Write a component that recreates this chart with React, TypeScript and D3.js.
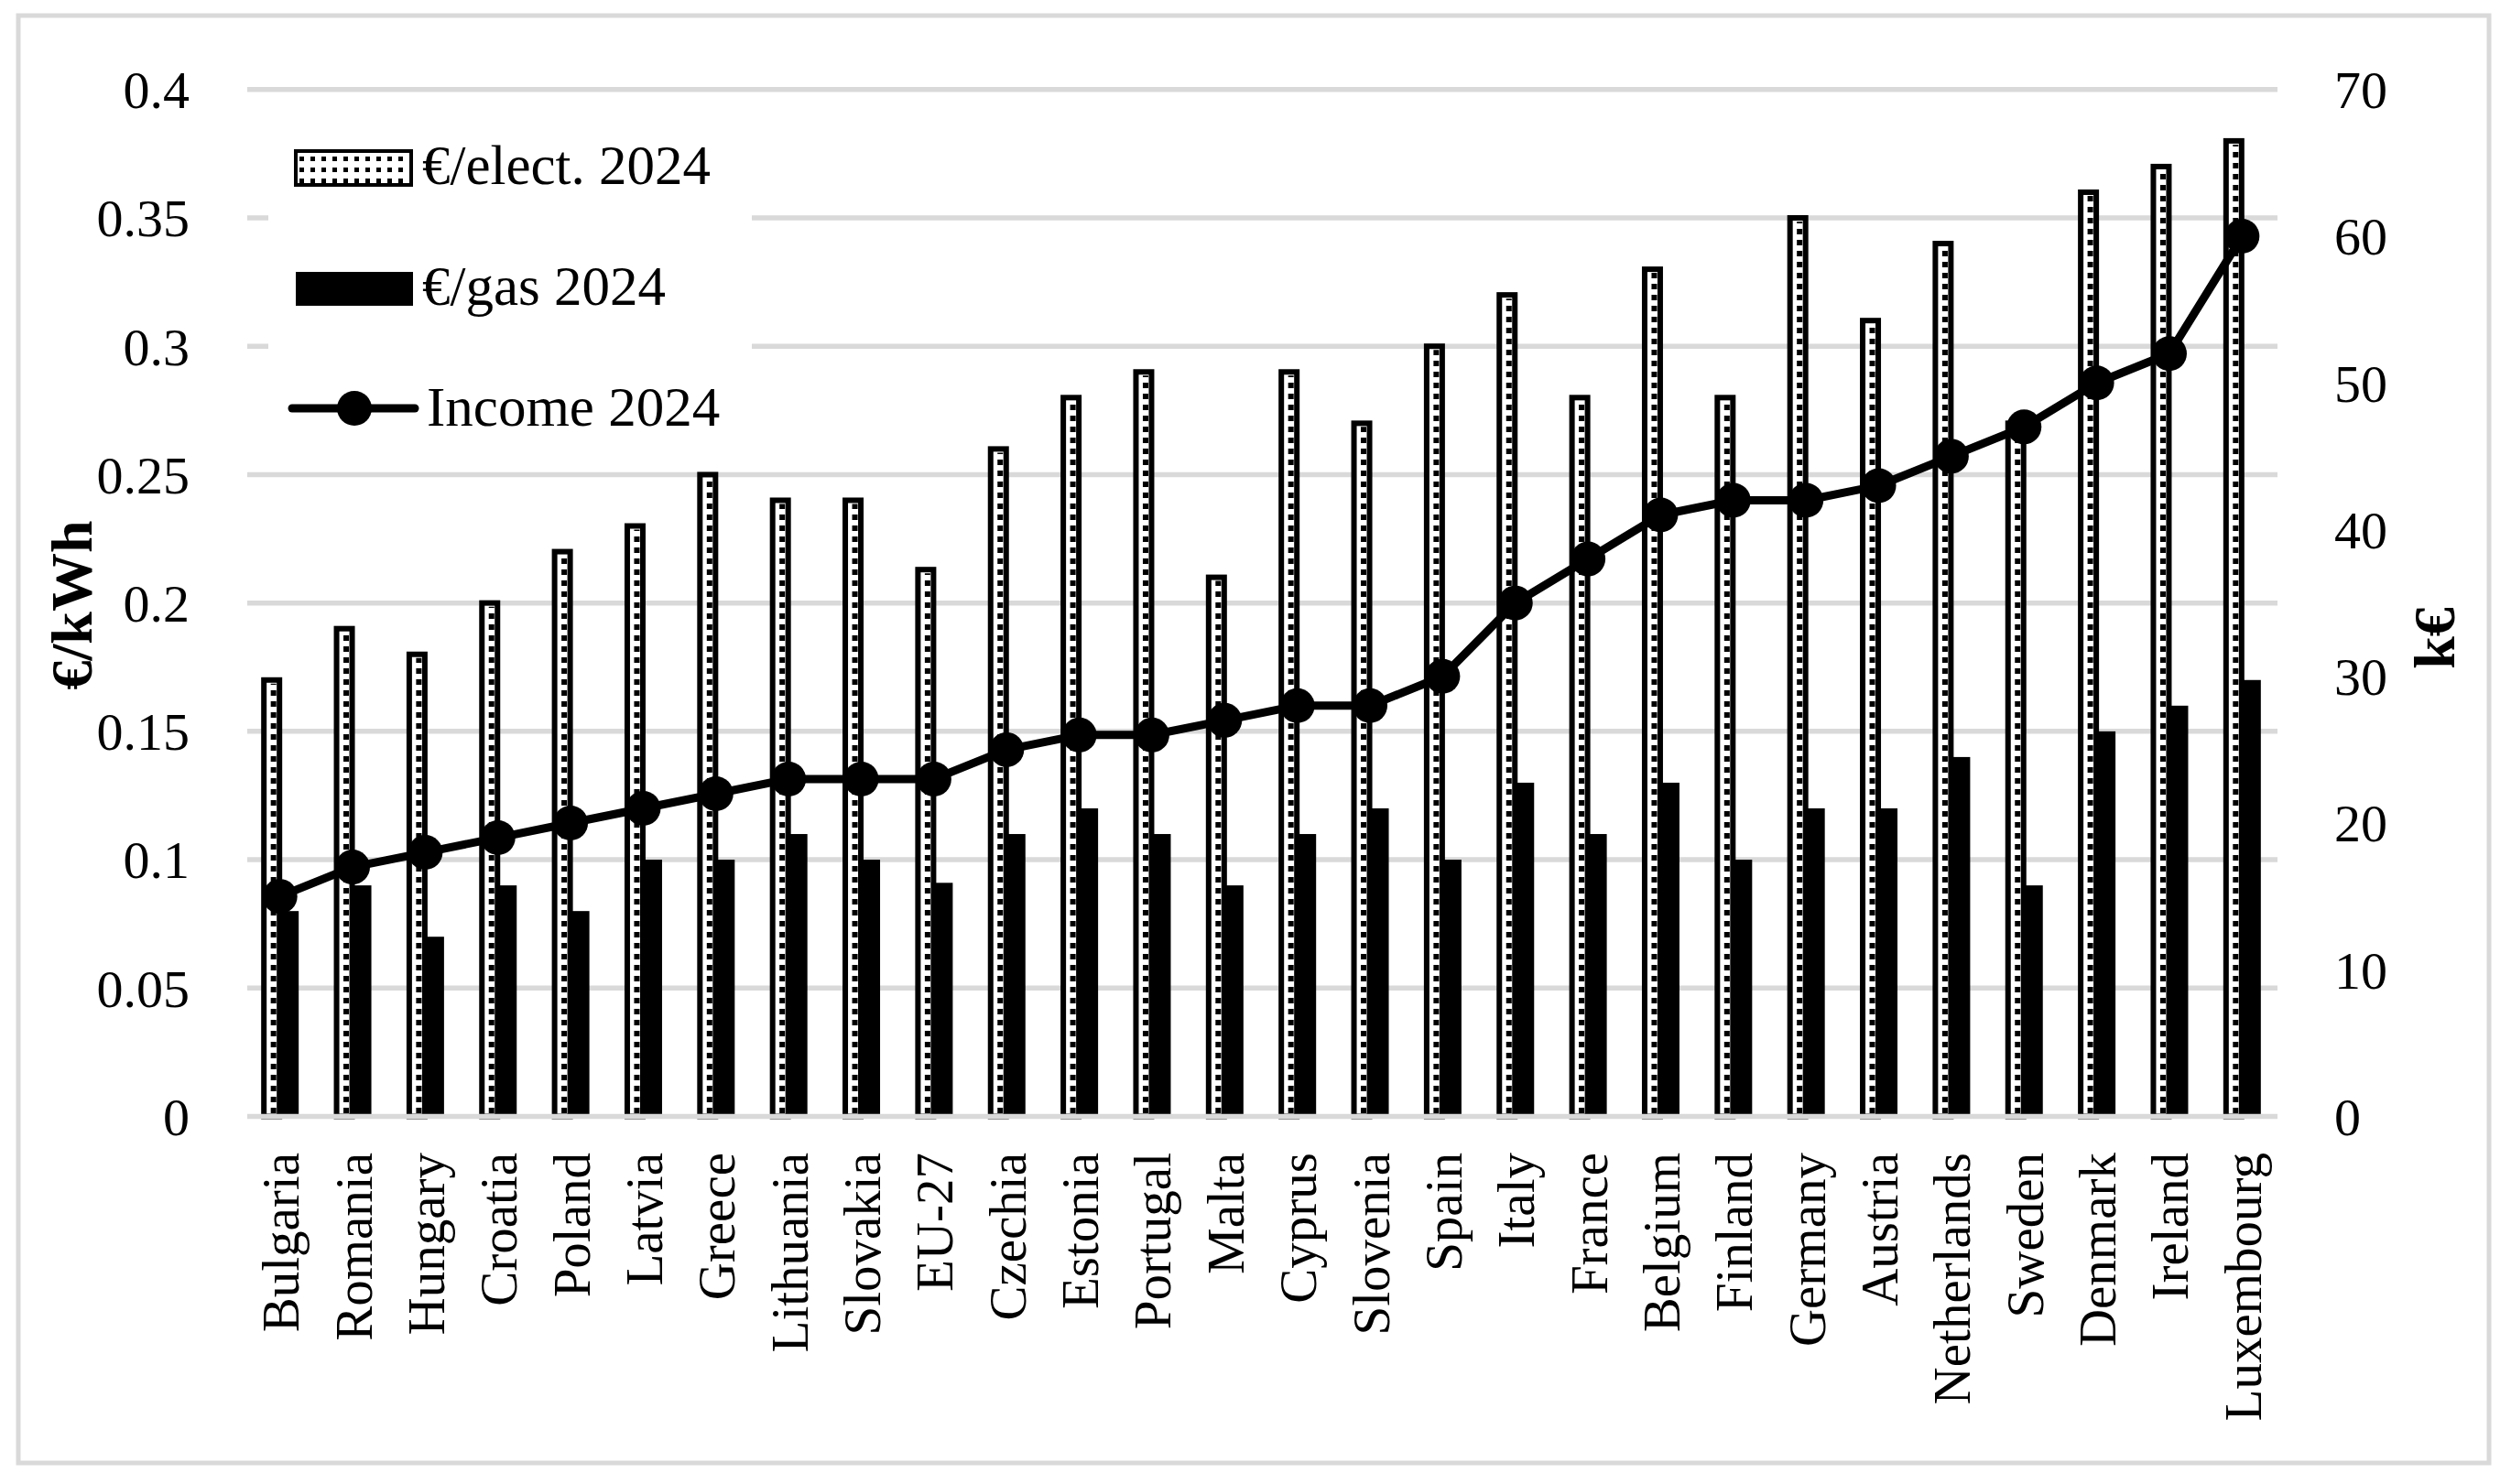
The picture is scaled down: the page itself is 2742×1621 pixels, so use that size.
import * as React from "react";
import * as d3 from "d3";

const countries = [
  "Bulgaria", "Romania", "Hungary", "Croatia", "Poland", "Latvia", "Greece",
  "Lithuania", "Slovakia", "EU-27", "Czechia", "Estonia", "Portugal", "Malta",
  "Cyprus", "Slovenia", "Spain", "Italy", "France", "Belgium", "Finland",
  "Germany", "Austria", "Netherlands", "Sweden", "Denmark", "Ireland", "Luxembourg",
];
const elect2024 = [
  0.17, 0.19, 0.18, 0.2, 0.22, 0.23, 0.25, 0.24, 0.24, 0.213, 0.26, 0.28, 0.29, 0.21,
  0.29, 0.27, 0.3, 0.32, 0.28, 0.33, 0.28, 0.35, 0.31, 0.34, 0.27, 0.36, 0.37, 0.38,
];
const gas2024 = [
  0.08, 0.09, 0.07, 0.09, 0.08, 0.1, 0.1, 0.11, 0.1, 0.091, 0.11, 0.12, 0.11, 0.09,
  0.11, 0.12, 0.1, 0.13, 0.11, 0.13, 0.1, 0.12, 0.12, 0.14, 0.09, 0.15, 0.16, 0.17,
];
const income2024 = [
  15, 17, 18, 19, 20, 21, 22, 23, 23, 23, 25, 26, 26, 27,
  28, 28, 30, 35, 38, 41, 42, 42, 43, 45, 47, 50, 52, 60,
];
const leftTicks = [0, 0.05, 0.1, 0.15, 0.2, 0.25, 0.3, 0.35, 0.4];
const rightTicks = [0, 10, 20, 30, 40, 50, 60, 70];

const W = 2742;
const H = 1621;
const FONT = "'Liberation Serif', 'Times New Roman', serif";
const GRID = "#d9d9d9";

const App = () => {
  const x = d3.scaleBand().domain(countries).range([266, 2488]);
  const y = d3.scaleLinear().domain([0, 0.4]).range([1219.5, 97.8]);
  const yR = d3.scaleLinear().domain([0, 70]).range([1219.5, 97.8]);
  const cx = (c: string) => (x(c) as number) + x.bandwidth() / 2;

  const line = d3
    .line<number>()
    .x((d, i) => cx(countries[i]))
    .y((d) => yR(d));

  const fmt = (v: number) => (v === 0 ? "0" : String(+v.toFixed(2)));

  return (
    <svg
      width={W}
      height={H}
      style={{ position: "absolute", left: 0, top: 0, display: "block", background: "#fff" }}
      fontFamily={FONT}
    >
      <defs>
        <pattern id="dots" width="12" height="12" patternUnits="userSpaceOnUse">
          <rect width="12" height="12" fill="#fff" />
          <rect x="3" y="3" width="5" height="5" fill="#000" />
        </pattern>
      </defs>
      <rect x={20} y={17} width={2698} height={1581} fill="#fff" stroke={GRID} strokeWidth={5} />

      {/* gridlines */}
      {leftTicks.slice(1).map((t) => (
        <line key={t} x1={270} x2={2487} y1={y(t)} y2={y(t)} stroke={GRID} strokeWidth={5.5} />
      ))}

      {/* bars */}
      {countries.map((c, i) => {
        const m = cx(c);
        const top = y(elect2024[i]);
        return (
          <g key={c}>
            <rect x={m - 17.5} y={top} width={17} height={y(0) - top} fill="#fff" stroke="#000" strokeWidth={6} />
            <line
              x1={m - 7}
              x2={m - 7}
              y1={y(0) - 3.5}
              y2={top + 4}
              stroke="#000"
              strokeWidth={6}
              strokeDasharray="6 6"
            />
            <rect x={m} y={y(gas2024[i])} width={20.5} height={y(0) - y(gas2024[i])} fill="#000" />
          </g>
        );
      })}

      {/* zero axis line on top */}
      <line x1={270} x2={2487} y1={y(0)} y2={y(0)} stroke={GRID} strokeWidth={5.5} />

      {/* income line */}
      <path d={line(income2024) || ""} fill="none" stroke="#000" strokeWidth={9} strokeLinejoin="round" />
      {income2024.map((v, i) => (
        <circle key={i} cx={cx(countries[i])} cy={yR(v)} r={19} fill="#000" />
      ))}

      {/* left axis */}
      {leftTicks.map((t) => (
        <text key={t} x={207} y={y(t)} dy="0.35em" textAnchor="end" fontSize={58}>
          {fmt(t)}
        </text>
      ))}
      {/* right axis */}
      {rightTicks.map((t) => (
        <text key={t} x={2549} y={yR(t)} dy="0.35em" textAnchor="start" fontSize={58}>
          {t}
        </text>
      ))}

      {/* category labels */}
      {countries.map((c) => (
        <text
          key={c}
          transform={`translate(${cx(c)},1259) rotate(-90)`}
          dy="0.36em"
          textAnchor="end"
          fontSize={57}
        >
          {c}
        </text>
      ))}

      {/* axis titles */}
      <text transform="translate(100,661) rotate(-90)" textAnchor="middle" fontSize={64} fontWeight="bold">
        €/kWh
      </text>
      <text transform="translate(2680,697) rotate(-90)" textAnchor="middle" fontSize={64} fontWeight="bold">
        k€
      </text>

      {/* legend */}
      <rect x={293} y={125} width={528} height={370} fill="#fff" />
      <rect x={323} y={165} width={126} height={37} fill="url(#dots)" stroke="#000" strokeWidth={4} />
      <text x={461} y={201} fontSize={61}>€/elect. 2024</text>
      <rect x={323} y={297} width={128} height={37} fill="#000" />
      <text x={461} y={333} fontSize={61}>€/gas 2024</text>
      <line x1={319} x2={453} y1={446} y2={446} stroke="#000" strokeWidth={9} strokeLinecap="round" />
      <circle cx={387} cy={446} r={19} fill="#000" />
      <text x={466} y={465} fontSize={61}>Income 2024</text>
    </svg>
  );
};

export default App;
